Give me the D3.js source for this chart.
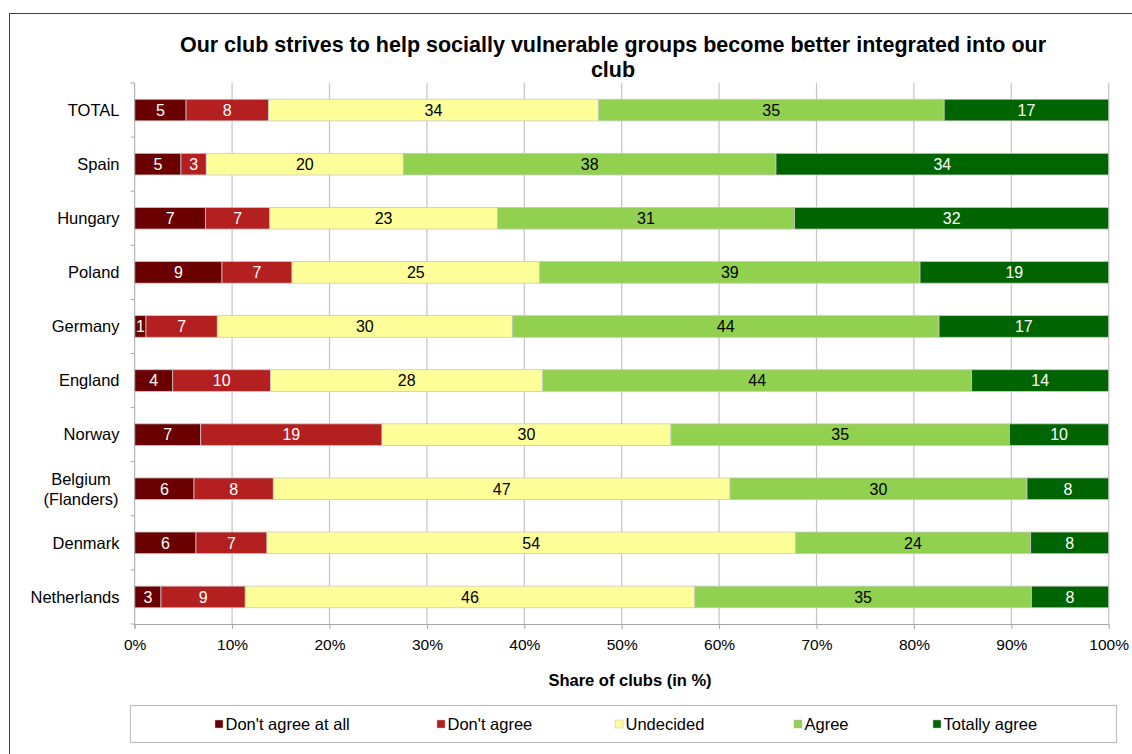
<!DOCTYPE html>
<html>
<head>
<meta charset="utf-8">
<script src="https://cdn.jsdelivr.net/npm/d3@7"></script>
<style>
  html, body { margin: 0; padding: 0; background: #fff; }
  svg { display: block; font-family: "Liberation Sans", Arial, sans-serif; }
</style>
</head>
<body>
<svg id="chart" width="1132" height="754"></svg>
<script>
// ---- data ----
const categories = ["TOTAL", "Spain", "Hungary", "Poland", "Germany", "England", "Norway", "Belgium\n(Flanders)", "Denmark", "Netherlands"];
const seriesNames = ["Don't agree at all", "Don't agree", "Undecided", "Agree", "Totally agree"];
const dontAgreeAtAll = [5.27, 4.75, 7.29, 8.96, 1.16, 3.90, 6.78, 6.09, 6.29, 2.70];
const dontAgree      = [8.45, 2.60, 6.60, 7.19, 7.32, 10.06, 18.61, 8.14, 7.29, 8.66];
const undecided      = [33.85, 20.23, 23.38, 25.43, 30.29, 27.93, 29.67, 46.89, 54.25, 46.20];
const agree          = [35.48, 38.26, 30.55, 39.05, 43.81, 44.04, 34.74, 30.49, 24.16, 34.60];
const totallyAgree   = [16.88, 34.16, 32.28, 19.37, 17.42, 14.07, 10.20, 8.39, 8.01, 7.94];
const xTicks = [0, 0.1, 0.2, 0.3, 0.4, 0.5, 0.6, 0.7, 0.8, 0.9, 1];
const titleLines = ["Our club strives to help socially vulnerable groups become better integrated into our", "club"];
const xTitle = "Share of clubs (in %)";

const colors = ["#6a0000", "#b41f1f", "#ffff99", "#92d050", "#006400"];
const labelColors = ["#fff", "#fff", "#000", "#000", "#fff"];

// ---- build table ----
const seriesValues = [dontAgreeAtAll, dontAgree, undecided, agree, totallyAgree];
const table = categories.map((c, i) => {
  const row = { cat: c };
  seriesNames.forEach((s, j) => row[s] = seriesValues[j][i]);
  return row;
});
const stacked = d3.stack().keys(seriesNames).offset(d3.stackOffsetExpand)(table);

const svg = d3.select("#chart");

// outer frame
svg.append("rect").attr("x", 9.5).attr("y", 13.5).attr("width", 1140).attr("height", 760)
  .attr("fill", "none").attr("stroke", "#404040").attr("stroke-width", 1);

const pLeft = 134.7, pRight = 1108.7, pTop = 83, pBottom = 624;
const x = d3.scaleLinear().domain([0, 1]).range([pLeft, pRight]);
const y = d3.scaleBand().domain(categories).range([pTop, pBottom]).paddingInner(0.6).paddingOuter(0.3);

// title
svg.append("g").selectAll("text").data(titleLines).join("text")
  .attr("x", 613).attr("y", (d, i) => 52 + i * 25)
  .attr("text-anchor", "middle").attr("font-weight", "bold").attr("font-size", 21.5).attr("fill", "#000")
  .text(d => d);

// gridlines
svg.append("g").selectAll("line").data(xTicks.slice(1)).join("line")
  .attr("x1", d => x(d)).attr("x2", d => x(d)).attr("y1", pTop).attr("y2", pBottom)
  .attr("stroke", "#c4c4c4").attr("stroke-width", 1.2);

// bars
const gSeries = svg.append("g").selectAll("g").data(stacked).join("g")
  .attr("fill", (d, i) => colors[i]);
gSeries.selectAll("rect").data(d => d).join("rect")
  .attr("x", d => x(d[0])).attr("width", d => x(d[1]) - x(d[0]))
  .attr("y", d => y(d.data.cat)).attr("height", y.bandwidth())
  .attr("stroke", "#c8c8c8").attr("stroke-width", 0.8);

// value labels
stacked.forEach((s, si) => {
  svg.append("g").selectAll("text").data(s).join("text")
    .attr("x", d => (x(d[0]) + x(d[1])) / 2)
    .attr("y", d => y(d.data.cat) + y.bandwidth() / 2)
    .attr("dy", "0.36em").attr("text-anchor", "middle")
    .attr("font-size", 16).attr("fill", labelColors[si])
    .text(d => Math.round(d.data[s.key]));
});

// x axis
const xAxis = d3.axisBottom(x).tickValues(xTicks).tickFormat(d3.format(".0%")).tickSize(5).tickPadding(9.5);
const gx = svg.append("g").attr("transform", `translate(0,${pBottom})`).call(xAxis);
gx.select(".domain").attr("stroke", "#a6a6a6").attr("d", `M${pLeft},0.5H${pRight}`);
gx.selectAll(".tick line").attr("stroke", "#a6a6a6");
gx.selectAll("text").attr("font-size", 15.5).attr("fill", "#000").attr("font-family", "Liberation Sans, Arial, sans-serif");

// y axis: line with ticks at band boundaries
const boundaries = d3.range(categories.length + 1).map(i => pTop + i * y.step());
const gy = svg.append("g");
gy.append("line").attr("x1", pLeft).attr("x2", pLeft).attr("y1", pTop).attr("y2", pBottom + 4)
  .attr("stroke", "#a6a6a6");
gy.selectAll("line.t").data(boundaries).join("line").attr("class", "t")
  .attr("x1", pLeft - 4).attr("x2", pLeft).attr("y1", d => d).attr("y2", d => d)
  .attr("stroke", "#a6a6a6");

// category labels
categories.forEach(c => {
  const lines = c.split("\n");
  const cy = y(c) + y.bandwidth() / 2;
  const t = svg.append("text").attr("text-anchor", lines.length > 1 ? "middle" : "end")
    .attr("font-size", 16.5).attr("fill", "#000");
  lines.forEach((ln, i) => {
    t.append("tspan").attr("x", lines.length > 1 ? 81 : 119.5)
      .attr("y", cy + (i - (lines.length - 1) / 2) * 20).attr("dy", "0.35em").text(ln);
  });
});

// x title
svg.append("text").attr("x", 630).attr("y", 680).attr("dy", "0.35em")
  .attr("text-anchor", "middle").attr("font-weight", "bold").attr("font-size", 16.5)
  .text(xTitle);

// legend
svg.append("rect").attr("x", 130.5).attr("y", 705.5).attr("width", 986).attr("height", 37)
  .attr("fill", "#fff").attr("stroke", "#c0c0c0").attr("stroke-width", 1.2);
const legendX = [215, 437, 615, 794, 933];
const lg = svg.append("g").selectAll("g").data(seriesNames).join("g")
  .attr("transform", (d, i) => `translate(${legendX[i]},724)`);
lg.append("rect").attr("x", 0).attr("y", -4).attr("width", 8).attr("height", 8)
  .attr("fill", (d, i) => colors[i]).attr("stroke", "#bbb").attr("stroke-width", 0.5);
lg.append("text").attr("x", 10.5).attr("dy", "0.35em").attr("font-size", 16.5).text(d => d);
</script>
</body>
</html>
